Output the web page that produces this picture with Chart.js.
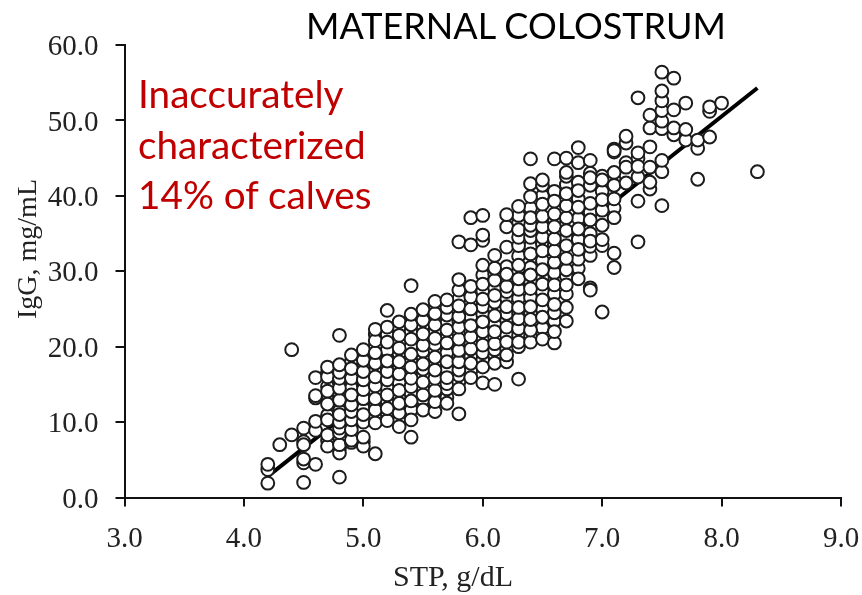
<!DOCTYPE html>
<html>
<head>
<meta charset="utf-8">
<title>Maternal colostrum</title>
<script src="https://cdn.jsdelivr.net/npm/chart.js@4"></script>
<style>
    html, body { margin: 0; padding: 0; background: #fff; }
    #wrap { position: relative; width: 862px; height: 595px; overflow: hidden; }
    #wrap div { position: absolute; white-space: nowrap; }
    #chart { filter: blur(0.35px); }
    #heading { left: 306px; top: 3px; font: 36px Lato, sans-serif; color: #000; }
    #note { left: 138px; top: 68px; font: 38.7px/50.5px Lato, sans-serif; color: #c00000; }
    .axisName { color: #222; }
    #xName { left: 393px; top: 559px; font: 30px "Liberation Serif", serif; }
    #yName { left: 27px; top: 249px; font: 28px "Liberation Serif", serif; transform: translate(-50%, -50%) rotate(-90deg); }
</style>
</head>
<body>
<div id="wrap">
    <canvas id="chart" width="862" height="595"></canvas>
    <div id="heading">MATERNAL COLOSTRUM</div>
    <div id="note">Inaccurately<br>characterized<br>14% of calves</div>
    <div id="xName" class="axisName">STP, g/dL</div>
    <div id="yName" class="axisName">IgG, mg/mL</div>
</div>
<script>
// values, one list of IgG readings per STP level
const stpLevels = [4.2, 4.3, 4.4, 4.5, 4.6, 4.7, 4.8, 4.9, 5.0, 5.1, 5.2, 5.3, 5.4, 5.5, 5.6, 5.7, 5.8, 5.9, 6.0, 6.1, 6.2, 6.3, 6.4, 6.5, 6.6, 6.7, 6.8, 6.9, 7.0, 7.1, 7.2, 7.3, 7.4, 7.5, 7.6, 7.7, 7.8, 7.9, 8.0, 8.3];
// circles that only show as a rim behind the others
const iggBehind = [
    [], [], [],
    [7.4],
    [],
    [7.6, 10.9, 12.9, 14.7, 16.6],
    [6.5, 11.5, 13.5, 15.2, 17.0],
    [9.6, 13.0, 14.5, 16.4, 18.0],
    [7.4, 11.8, 15.0, 17.4, 19.0],
    [10.6, 12.2, 14.0, 16.8, 18.4, 20.1, 21.6],
    [11.0, 12.6, 14.5, 16.2, 18.9, 19.5, 21.6],
    [10.4, 13.3, 15.2, 17.2, 19.0, 20.6, 22.5],
    [11.6, 13.8, 16.5, 18.1, 20.0, 22.0, 23.6],
    [12.4, 13.0, 14.5, 16.3, 17.0, 18.6, 19.4, 21.0, 22.6, 24.3],
    [13.4, 15.0, 17.8, 19.5, 20.3, 22.0, 23.7, 25.2],
    [13.3, 14.4, 15.1, 17.0, 19.2, 21.3, 23.2, 24.2],
    [15.3, 16.2, 18.7, 20.4, 21.8, 23.3, 26.3],
    [16.8, 18.7, 20.5, 22.1, 24.0, 25.8],
    [18.2, 19.2, 21.2, 22.6, 24.3, 25.3, 27.4, 29.5],
    [18.9, 19.6, 21.2, 23.0, 25.0, 25.9, 27.8, 29.6],
    [19.7, 21.6, 23.5, 24.4, 26.5, 27.3, 30.6],
    [21.5, 24.4, 26.4, 27.6, 32.0, 36.4, 37.4],
    [21.4, 24.4, 26.5, 28.6, 30.5, 33.3, 38.4],
    [22.5, 25.0, 27.3, 29.2, 31.4, 33.6, 40.0],
    [23.4, 24.5, 27.0, 29.8, 33.5, 36.8, 40.6],
    [25.2, 29.4, 34.4, 39.5, 41.5],
    [30.4, 31.6, 34.2, 37.0, 39.6, 41.8],
    [27.8, 35.0, 37.8, 39.0, 43.0],
    [37.0, 40.6, 42.6],
    [38.4, 42.2, 45.8, 46.2],
    [44.4],
    [42.5, 45.0],
    [], [], [], [], [], [], [], []
];
// circles that show whole
const iggFront = [
    [1.9, 3.7, 4.4],
    [7.0],
    [8.3, 19.6],
    [2.0, 4.6, 5.1, 7.0, 9.2],
    [4.4, 8.9, 10.1, 13.2, 13.5, 15.9],
    [6.8, 8.3, 10.3, 12.4, 14.1, 16.0, 17.3],
    [2.7, 5.9, 7.0, 8.6, 9.2, 10.0, 11.0, 12.9, 14.5, 15.8, 16.6, 17.6, 21.5],
    [7.3, 7.6, 9.0, 10.3, 11.4, 12.3, 13.6, 15.8, 17.1, 18.9],
    [6.8, 8.0, 10.0, 11.0, 13.1, 14.3, 15.6, 16.7, 18.2, 19.6],
    [5.8, 9.9, 11.6, 13.1, 14.8, 16.0, 17.8, 19.2, 20.8, 22.3],
    [10.2, 11.8, 13.6, 15.6, 16.7, 18.1, 20.6, 22.6, 24.8],
    [9.4, 11.2, 12.5, 14.2, 16.4, 18.0, 19.8, 21.5, 23.3],
    [8.0, 10.3, 12.8, 14.7, 15.8, 17.3, 19.0, 21.0, 22.9, 24.3, 28.1],
    [11.6, 13.6, 15.3, 17.7, 20.2, 21.7, 23.5, 24.9],
    [11.4, 12.7, 14.2, 15.8, 16.9, 18.6, 21.1, 22.9, 24.4, 26.0],
    [12.5, 15.9, 18.0, 20.5, 22.2, 25.2, 26.2],
    [11.1, 14.4, 16.9, 18.0, 19.5, 21.0, 22.6, 24.0, 25.4, 27.5, 28.9, 33.9],
    [15.9, 17.8, 19.7, 21.3, 22.8, 25.0, 26.6, 28.0, 33.5, 37.1],
    [15.2, 17.3, 20.2, 22.0, 23.3, 26.3, 28.3, 30.8, 34.1, 34.8, 37.4],
    [15.0, 17.8, 20.4, 22.0, 24.1, 26.8, 28.8, 30.4, 32.1],
    [18.0, 18.9, 20.6, 22.6, 25.3, 28.0, 29.6, 33.2, 35.9, 37.5],
    [15.7, 20.0, 20.6, 22.4, 23.7, 25.2, 29.0, 30.8, 33.4, 34.5, 35.5, 38.6],
    [20.6, 22.2, 23.6, 25.3, 27.7, 29.5, 32.3, 34.5, 35.4, 36.1, 37.1, 39.9, 41.6, 44.9],
    [21.0, 23.9, 26.2, 28.3, 30.2, 32.7, 34.5, 35.9, 37.3, 38.9, 41.4, 42.1],
    [20.5, 22.0, 25.6, 28.2, 31.2, 32.7, 34.3, 35.9, 37.6, 39.3, 44.9],
    [23.4, 27.0, 28.2, 30.2, 31.7, 33.4, 35.4, 37.1, 38.7, 40.3, 42.6, 43.1, 45.0],
    [29.0, 32.9, 35.6, 38.5, 40.7, 44.4, 46.4],
    [27.5, 32.1, 33.3, 34.0, 36.8, 41.4, 42.4, 44.7],
    [24.6, 33.4, 34.2, 36.1, 38.1, 39.5, 42.1],
    [30.5, 32.4, 37.1, 39.6, 41.4, 43.1, 46.0],
    [41.7, 43.8, 47.0, 47.9],
    [33.9, 39.3, 43.9, 45.7, 53.0],
    [40.9, 41.8, 43.8, 46.5, 49.0, 50.7],
    [38.7, 43.2, 44.7, 48.9, 49.9, 51.3, 52.6, 53.9, 56.4],
    [48.1, 49.0, 51.4, 55.6],
    [47.4, 48.8, 52.3],
    [42.2, 46.3, 47.4],
    [47.8, 51.2, 51.8],
    [52.3],
    [43.2]
];
const fitStp = [4.2, 8.3];
const fitIgg = [2.8, 54.3];
const xTicks = [3, 4, 5, 6, 7, 8, 9];
const yTicks = [0, 10, 20, 30, 40, 50, 60];

const calves = [];
[iggBehind, iggFront].forEach(layer => {
    stpLevels.forEach((stp, i) => {
        layer[i].forEach(igg => calves.push({ x: stp, y: igg }));
    });
});
const fitLine = fitStp.map((stp, i) => ({ x: stp, y: fitIgg[i] }));

// fixed plot box, the reference has its axes at these pixels
function axisOptions(min, max, ticks, sizeKey, size, labelGap, labelShift) {
    return {
        min: min,
        max: max,
        afterBuildTicks: axis => { axis.ticks = ticks.map(v => ({ value: v })); },
        afterFit: axis => {
            axis[sizeKey] = size;
            axis.paddingLeft = axis.paddingRight = 0;
            axis.paddingTop = axis.paddingBottom = 0;
        },
        border: { color: '#111', width: 2 },
        grid: { drawOnChartArea: false, color: '#111', lineWidth: 2, tickLength: 9 },
        ticks: {
            color: '#222',
            padding: labelGap,
            labelOffset: labelShift,
            maxRotation: 0,
            autoSkip: false,
            font: { family: '"Liberation Serif", serif', size: 29 },
            callback: v => v.toFixed(1)
        }
    };
}

new Chart(document.getElementById('chart'), {
    type: 'scatter',
    data: {
        datasets: [
            {
                data: calves,
                order: 1,
                pointRadius: 6.4,
                pointBorderWidth: 2,
                pointBackgroundColor: '#fff',
                pointBorderColor: '#1c1c1c'
            },
            {
                type: 'line',
                data: fitLine,
                order: 2,
                borderColor: '#000',
                borderWidth: 4,
                pointRadius: 0
            }
        ]
    },
    options: {
        responsive: false,
        animation: false,
        layout: { padding: { top: 45, right: 21, bottom: 0, left: 0 } },
        plugins: { legend: { display: false }, tooltip: { enabled: false } },
        scales: {
            x: axisOptions(3, 9, xTicks, 'height', 97.5, 15, 0),
            y: axisOptions(0, 60, yTicks, 'width', 124.5, 17, 2.5)
        }
    }
});
</script>
</body>
</html>
